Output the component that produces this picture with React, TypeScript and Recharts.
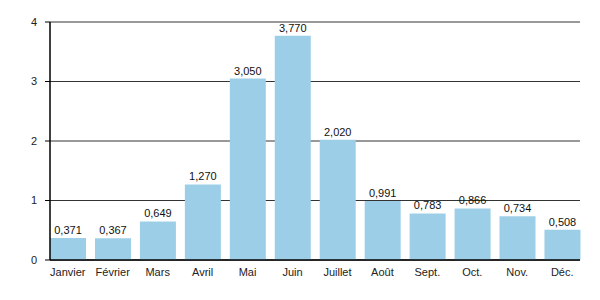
import React from 'react';
import { BarChart, Bar, XAxis, YAxis, CartesianGrid, LabelList } from 'recharts';

const MONTHS = ['Janvier', 'Février', 'Mars', 'Avril', 'Mai', 'Juin', 'Juillet', 'Août', 'Sept.', 'Oct.', 'Nov.', 'Déc.'];
const VALUES = [0.371, 0.367, 0.649, 1.27, 3.05, 3.77, 2.02, 0.991, 0.783, 0.866, 0.734, 0.508];
const Y_TICKS = [0, 1, 2, 3, 4];

const data = MONTHS.map((m, i) => ({ month: m, value: VALUES[i] }));

const fmt = (v: any) => Number(v).toFixed(3).replace('.', ',');

export default function App() {
  return (
    <div style={{ position: 'absolute', left: 0, top: 0, fontFamily: '"Liberation Sans", Arial, sans-serif' }}>
      <BarChart width={600} height={300} data={data} margin={{ top: 22, right: 20, bottom: 10, left: 0 }} barCategoryGap="10.5%">
        <CartesianGrid vertical={false} stroke="#333" strokeWidth={1} />
        <XAxis
          dataKey="month"
          tickLine={false}
          axisLine={{ stroke: '#000', strokeWidth: 1.5 }}
          tick={{ fontSize: 11, fill: '#222' }}
          height={30}
          interval={0}
          tickMargin={2}
          padding={{ left: -4.7, right: -4.7 }}
        />
        <YAxis
          domain={[0, 4]}
          ticks={Y_TICKS}
          width={50}
          tickSize={5}
          tickLine={{ stroke: '#000' }}
          axisLine={{ stroke: '#000', strokeWidth: 1.5 }}
          tick={{ fontSize: 11, fill: '#222' }}
          tickMargin={8}
        />
        <Bar dataKey="value" fill="#9ccfe7" isAnimationActive={false}>
          <LabelList dataKey="value" position="top" formatter={fmt} style={{ fontSize: 11, fill: '#111' }} offset={4} />
        </Bar>
      </BarChart>
    </div>
  );
}
